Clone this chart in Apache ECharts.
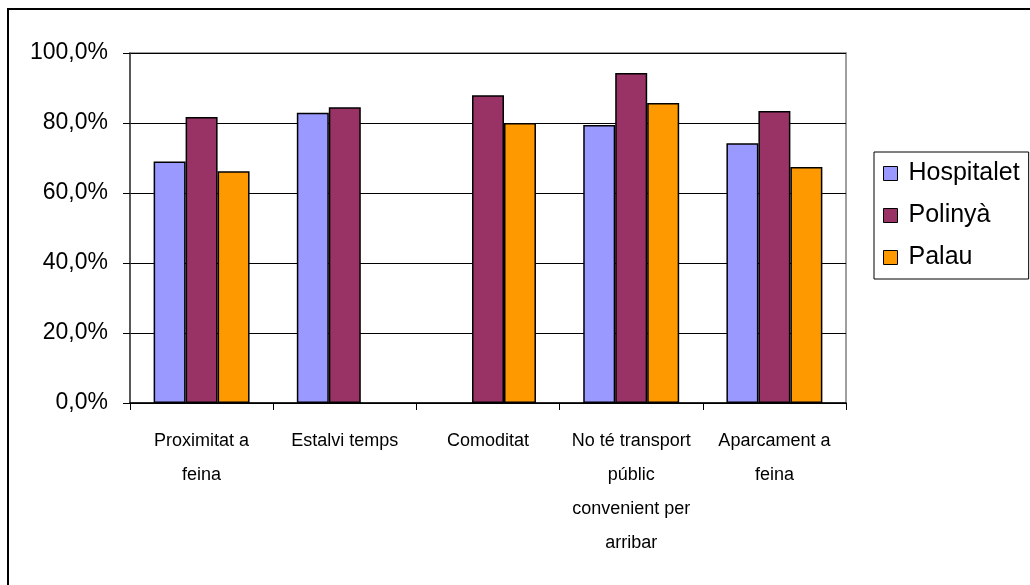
<!DOCTYPE html>
<html>
<head>
<meta charset="utf-8">
<script src="https://cdn.jsdelivr.net/npm/echarts@6/dist/echarts.min.js"></script>
<style>
  html, body { margin: 0; padding: 0; background: #fff; }
  #chart { width: 1030px; height: 585px; }
</style>
</head>
<body>
<div id="chart"></div>
<script>
// Motius per utilitzar el cotxe, per municipi (%)
const categories = [
  'Proximitat a\nfeina',
  'Estalvi temps',
  'Comoditat',
  'No té transport\npúblic\nconvenient per\narribar',
  'Aparcament a\nfeina'
];
const seriesNames = ['Hospitalet', 'Polinyà', 'Palau'];
const hospitalet = [69.0, 82.9, null, 79.4, 74.2];
const polinya    = [81.7, 84.5, 87.9, 94.3, 83.4];
const palau      = [66.2, null, 80.0, 85.7, 67.4];
const yTicks = [0, 20, 40, 60, 80, 100];

const colors = ['#9999FF', '#993366', '#FF9900'];
const values = [hospitalet, polinya, palau];

const chart = echarts.init(document.getElementById('chart'), null, { renderer: 'canvas' });

const fmtPct = v => v.toFixed(1).replace('.', ',') + '%';

chart.setOption({
  animation: false,
  backgroundColor: '#fff',
  textStyle: { fontFamily: '"Liberation Sans", Arial, sans-serif' },
  graphic: [{
    type: 'rect',
    shape: { x: 8, y: 9, width: 1040, height: 600 },
    style: { fill: 'none', stroke: '#000', lineWidth: 2 },
    silent: true,
    z: 100
  }],
  grid: {
    left: 130, right: 184, top: 53, bottom: 182,
    show: true, borderColor: '#808080', borderWidth: 1.5,
    containLabel: false
  },
  legend: {
    orient: 'vertical',
    left: 874, top: 152,
    padding: [9, 9, 9, 9],
    itemGap: 17,
    itemWidth: 14, itemHeight: 14,
    icon: 'rect',
    borderColor: '#000', borderWidth: 1,
    itemStyle: { borderColor: '#000', borderWidth: 1 },
    textStyle: { fontSize: 25, color: '#000', padding: [0, 0, 0, 6],
      fontFamily: '"Liberation Sans", Arial, sans-serif' },
    data: seriesNames
  },
  xAxis: {
    type: 'category',
    data: categories,
    axisLine: { show: true, lineStyle: { color: '#000', width: 1.5 } },
    axisTick: { show: true, length: 7, alignWithLabel: false, lineStyle: { color: '#000' } },
    axisLabel: {
      interval: 0, margin: 21, fontSize: 18, lineHeight: 34, color: '#000',
      fontFamily: '"Liberation Sans", Arial, sans-serif'
    },
    splitLine: { show: false }
  },
  yAxis: {
    type: 'value',
    min: yTicks[0], max: yTicks[yTicks.length - 1], interval: yTicks[1] - yTicks[0],
    axisLine: { show: true, lineStyle: { color: '#404040', width: 1.5 } },
    axisTick: { show: true, length: 7, lineStyle: { color: '#000' } },
    axisLabel: {
      margin: 22, fontSize: 23, color: '#000', formatter: fmtPct,
      fontFamily: '"Liberation Sans", Arial, sans-serif'
    },
    splitLine: { show: true, lineStyle: { color: '#000', width: 1 } }
  },
  series: seriesNames.map((name, i) => ({
    name,
    type: 'bar',
    data: values[i],
    barGap: '0%',
    barCategoryGap: '33%',
    itemStyle: { color: colors[i], borderColor: '#000', borderWidth: 1.5 },
    emphasis: { disabled: true }
  }))
});
</script>
</body>
</html>
